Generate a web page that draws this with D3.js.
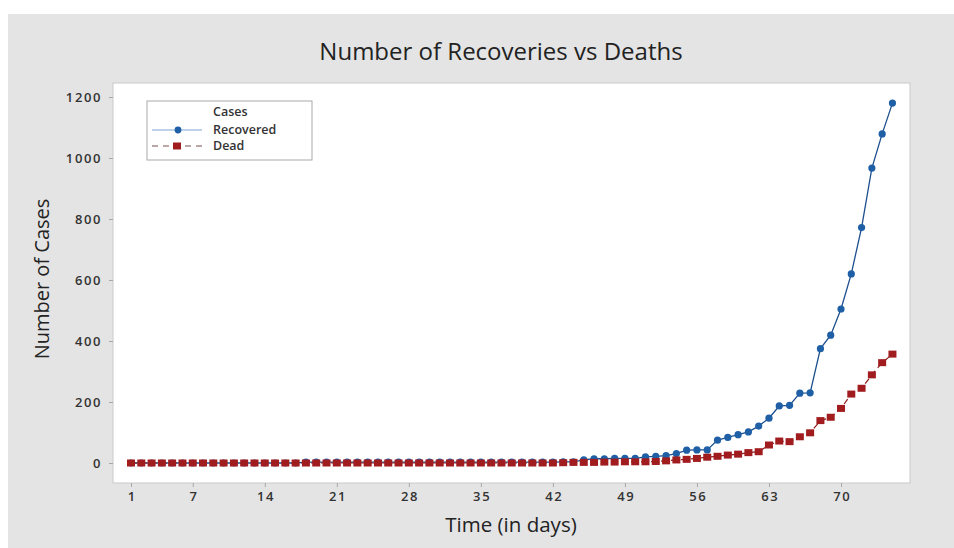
<!DOCTYPE html>
<html>
<head>
<meta charset="utf-8">
<script src="https://cdn.jsdelivr.net/npm/d3@7"></script>
<style>
  html, body { margin: 0; padding: 0; background: #ffffff; }
  svg { display: block; }
  text { font-family: "Open Sans", "Segoe UI", sans-serif; }
</style>
</head>
<body>
<svg id="chart" width="954" height="548"></svg>
<script>
// ---- data ----
const days = d3.range(1, 76);
const recovered = [
  0,0,0,0,0,0,0,0,0,0,            // 1-10
  0,0,0,0,0,0,0,3,3,3,            // 11-20
  3,3,3,3,3,3,3,3,3,3,            // 21-30
  3,3,3,3,3,3,3,3,3,3,            // 31-40
  3,3,4,4,10,14,14,15,15,15,      // 41-50
  20,22,24,31,42,43,43,75,84,93,  // 51-60
  102,121,147,187,189,229,230,375,419,505, // 61-70
  620,772,967,1079,1180           // 71-75
];
const dead = [
  0,0,0,0,0,0,0,0,0,0,
  0,0,0,0,0,0,0,0,0,0,
  0,0,0,0,0,0,0,0,0,0,
  0,0,0,0,0,0,0,0,0,0,
  0,0,1,2,2,2,3,3,4,4,
  4,5,7,10,12,15,19,22,26,29,
  34,37,59,72,70,86,99,139,150,179,
  226,245,289,329,357
];
const xTicks = [1, 7, 14, 21, 28, 35, 42, 49, 56, 63, 70];
const yTicks = [0, 200, 400, 600, 800, 1000, 1200];
const seriesNames = ["Recovered", "Dead"];
const legendTitle = "Cases";
const titleText = "Number of Recoveries vs Deaths";
const xLabel = "Time (in days)";
const yLabel = "Number of Cases";

// ---- layout ----
const svg = d3.select("#chart");
const plot = { left: 113, right: 910, top: 83, bottom: 483 };
const blueLine = "#1d4f8f", blueFill = "#1f5fa6";
const redLine = "#8e1b1b", redFill = "#a01c1f";

// panel background
svg.append("rect").attr("x", 8).attr("y", 14).attr("width", 946).attr("height", 534)
  .attr("fill", "#e4e4e4");

// plot area
svg.append("rect").attr("x", plot.left).attr("y", plot.top)
  .attr("width", plot.right - plot.left).attr("height", plot.bottom - plot.top)
  .attr("fill", "#ffffff").attr("stroke", "#c9c9c9").attr("stroke-width", 1);

const x = d3.scaleLinear().domain([1, 70]).range([131, 841]);
const y = d3.scaleLinear().domain([0, 1200]).range([463, 97]);

// axes
const xAxis = svg.append("g").attr("transform", `translate(0,${plot.bottom})`)
  .call(d3.axisBottom(x).tickValues(xTicks).tickSize(4).tickPadding(5).tickFormat(d3.format("d")));
xAxis.select(".domain").remove();
xAxis.selectAll(".tick line").attr("stroke", "#a8a8a8");
xAxis.selectAll(".tick text").attr("font-size", 13).attr("font-weight", 600)
  .attr("letter-spacing", "1.6px").attr("dx", "0.8")
  .attr("fill", "#333").attr("font-family", "'Open Sans', sans-serif");

const yAxis = svg.append("g").attr("transform", `translate(${plot.left},0)`)
  .call(d3.axisLeft(y).tickValues(yTicks).tickSize(4).tickPadding(7).tickFormat(d3.format("d")));
yAxis.select(".domain").remove();
yAxis.selectAll(".tick line").attr("stroke", "#a8a8a8");
yAxis.selectAll(".tick text").attr("font-size", 13).attr("font-weight", 600)
  .attr("letter-spacing", "1.6px")
  .attr("fill", "#333").attr("font-family", "'Open Sans', sans-serif");

// title and labels
svg.append("text").attr("x", 501).attr("y", 60).attr("text-anchor", "middle")
  .attr("font-size", 24).attr("font-weight", 500).attr("fill", "#222").text(titleText);
svg.append("text").attr("x", 511).attr("y", 532).attr("text-anchor", "middle")
  .attr("font-size", 20.5).attr("font-weight", 500).attr("fill", "#222").text(xLabel);
svg.append("text").attr("transform", "translate(49,279) rotate(-90)").attr("text-anchor", "middle")
  .attr("font-size", 20).attr("font-weight", 500).attr("fill", "#222").text(yLabel);

// series
const recData = days.map((d, i) => ({ day: d, v: recovered[i] }));
const deadData = days.map((d, i) => ({ day: d, v: dead[i] }));
const line = d3.line().x(d => x(d.day)).y(d => y(d.v));

svg.append("path").datum(recData).attr("d", line)
  .attr("fill", "none").attr("stroke", blueLine).attr("stroke-width", 1.3);
svg.append("g").selectAll("circle").data(recData).join("circle")
  .attr("cx", d => x(d.day)).attr("cy", d => y(d.v)).attr("r", 3.6)
  .attr("fill", blueFill);

svg.append("path").datum(deadData).attr("d", line)
  .attr("fill", "none").attr("stroke", redLine).attr("stroke-width", 1.2)
  .attr("stroke-dasharray", "6,4");
svg.append("g").selectAll("rect").data(deadData).join("rect")
  .attr("x", d => x(d.day) - 4).attr("y", d => y(d.v) - 3.5)
  .attr("width", 8).attr("height", 7).attr("fill", redFill);

// legend
const lg = svg.append("g");
lg.append("rect").attr("x", 147).attr("y", 101).attr("width", 165).attr("height", 59)
  .attr("fill", "#ffffff").attr("stroke", "#a9a9a9").attr("stroke-width", 1);
lg.append("text").attr("x", 213).attr("y", 116).attr("font-size", 12.5).attr("font-weight", 600)
  .attr("fill", "#333").text(legendTitle);
// recovered entry
lg.append("line").attr("x1", 152).attr("x2", 202).attr("y1", 130).attr("y2", 130)
  .attr("stroke", "#7fa6d6").attr("stroke-width", 1.2);
lg.append("circle").attr("cx", 178).attr("cy", 130).attr("r", 3.4).attr("fill", blueFill);
lg.append("text").attr("x", 213).attr("y", 134).attr("font-size", 12.5).attr("font-weight", 600)
  .attr("fill", "#333").text(seriesNames[0]);
// dead entry
lg.append("line").attr("x1", 152).attr("x2", 202).attr("y1", 146).attr("y2", 146)
  .attr("stroke", "#7a5050").attr("stroke-width", 1.1).attr("stroke-dasharray", "6,5");
lg.append("rect").attr("x", 173).attr("y", 142.5).attr("width", 8).attr("height", 7).attr("fill", redFill);
lg.append("text").attr("x", 213).attr("y", 150).attr("font-size", 12.5).attr("font-weight", 600)
  .attr("fill", "#333").text(seriesNames[1]);
</script>
</body>
</html>
